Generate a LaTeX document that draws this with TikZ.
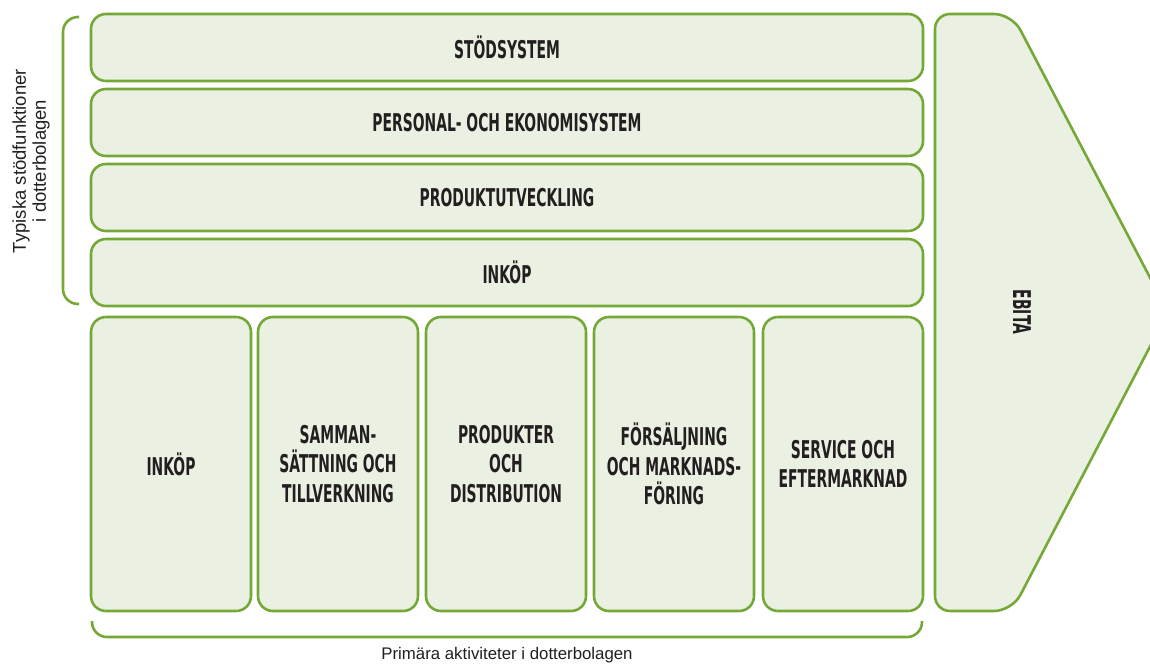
\documentclass[tikz,border=0pt]{standalone}
\usepackage{fontspec}
\setmainfont{Liberation Sans}
\newfontfamily\bebas[FakeStretch=0.63]{DejaVu Sans Condensed Bold}
\definecolor{vgreen}{RGB}{118,168,56}
\definecolor{vfill}{RGB}{234,241,226}
\definecolor{vtext}{RGB}{35,31,32}
\begin{document}
\begin{tikzpicture}[x=1pt,y=-1pt,
  box/.style={draw=vgreen, fill=vfill, line width=2.6pt, rounded corners=15pt,
    inner sep=0pt, align=center, text=vtext,
    font=\bebas\fontsize{24.5}{29.5}\selectfont},
  rowbox/.style={box, minimum width=832pt, minimum height=67pt},
  colbox/.style={box, minimum width=160pt, minimum height=294pt},
  brace/.style={draw=vgreen, line width=2.6pt, rounded corners=15pt},
  lbl/.style={text=vtext, align=center, font=\fontsize{16.8}{19.5}\selectfont}]
\useasboundingbox (0,0) rectangle (1150,665);
% support rows
\node[rowbox] (s1) at (507,47.5) {STÖDSYSTEM};
\node[rowbox] (s2) at (507,122.5) {PERSONAL- OCH EKONOMISYSTEM};
\node[rowbox] (s3) at (507,197.5) {PRODUKTUTVECKLING};
\node[rowbox] (s4) at (507,272.5) {INKÖP};
% primary columns
\node[colbox] (p1) at (171,464) {INKÖP};
\node[colbox] (p2) at (338,464) {SAMMAN-\\SÄTTNING OCH\\TILLVERKNING};
\node[colbox] (p3) at (506,464) {PRODUKTER\\OCH\\DISTRIBUTION};
\node[colbox] (p4) at (674,464) {FÖRSÄLJNING\\OCH MARKNADS-\\FÖRING};
\node[colbox] (p5) at (843,464) {SERVICE OCH\\EFTERMARKNAD};
% EBITA arrow
\draw[draw=vgreen, fill=vfill, line width=2.6pt, rounded corners=15pt]
  (935,300) -- (935,14) [rounded corners=18pt] -- (1012,14) [sharp corners] -- (1168,312)
  [rounded corners=18pt] -- (1012,611) [rounded corners=15pt] -- (935,611) -- cycle;
\node[text=vtext, rotate=-90, font=\bebas\fontsize{24.5}{29.5}\selectfont] (eb) at (1022,312) {EBITA};
% braces
\coordinate (lb1) at (79,17);
\coordinate (lb2) at (63,17);
\coordinate (lb3) at (63,304);
\coordinate (lb4) at (79,304);
\draw[brace] (lb1) -- (lb2) -- (lb3) -- (lb4);
\coordinate (bb1) at (92,621);
\coordinate (bb2) at (92,637);
\coordinate (bb3) at (922,637);
\coordinate (bb4) at (922,621);
\draw[brace] (bb1) -- (bb2) -- (bb3) -- (bb4);
\node[lbl, rotate=90, font=\fontsize{18.5}{20}\selectfont] (ll) at (31,161) {Typiska stödfunktioner\\i dotterbolagen};
\node[lbl] (bl) at (507,655) {Primära aktiviteter i dotterbolagen};
\end{tikzpicture}
\end{document}
